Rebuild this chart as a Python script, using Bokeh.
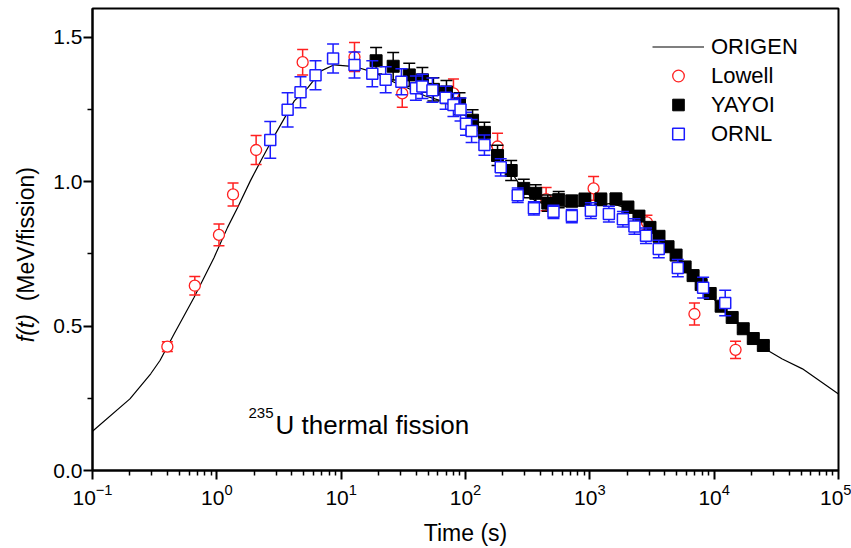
from math import pi
from bokeh.plotting import figure
from bokeh.layouts import row
from bokeh.core.properties import value
from bokeh.models import (FixedTicker, Label, Legend, LegendItem, PrintfTickFormatter,
                          Range1d, ColumnDataSource)
from bokeh.embed import file_html
from bokeh.resources import INLINE

FONT = "Liberation Sans"

# ---------------- data ----------------
origen_t = [0.1, 0.2, 0.294, 0.349, 0.453, 0.657, 0.951, 1.22, 1.47, 1.86, 2.26, 2.9, 4.2, 5.4,
            6.9, 8.8, 12.8, 18.6, 26.9, 34.5, 47, 64, 82, 105, 135, 172, 221, 283, 362, 465,
            673, 1038, 1503, 2050, 2790, 3810, 5190, 7060, 10240, 24400, 35300, 51300, 100000]
origen_f = [0.136, 0.248, 0.335, 0.381, 0.473, 0.600, 0.738, 0.842, 0.911, 1.003, 1.073, 1.159,
            1.280, 1.326, 1.384, 1.405, 1.399, 1.378, 1.344, 1.324, 1.298, 1.280, 1.257, 1.222,
            1.171, 1.107, 1.049, 0.980, 0.934, 0.917, 0.915, 0.917, 0.925, 0.906, 0.854, 0.796,
            0.727, 0.657, 0.588, 0.427, 0.386, 0.352, 0.265]

lowell_t = [0.40, 0.665, 1.04, 1.35, 2.07, 4.9, 12.8, 31, 80, 181, 445, 1072, 2880, 6940, 14860]
lowell_f = [0.429, 0.640, 0.816, 0.956, 1.110, 1.414, 1.432, 1.306, 1.306, 1.122, 0.940, 0.977,
            0.859, 0.542, 0.418]
lowell_err = [0.017, 0.032, 0.038, 0.040, 0.050, 0.044, 0.050, 0.048, 0.050, 0.046, 0.040, 0.041,
              0.025, 0.038, 0.030]

yayoi_t = [19.1, 26.2, 35.3, 45.0, 55.2, 70.3, 89.5, 114, 142, 181, 233, 294, 367, 459, 562, 716,
           912, 1227, 1622, 2025, 2483, 3046, 3600, 4256, 4940, 5840, 6770, 7860, 9290, 11380,
           13960, 17130, 20630, 24850]
yayoi_f = [1.419, 1.400, 1.370, 1.353, 1.320, 1.311, 1.270, 1.213, 1.171, 1.091, 1.039, 0.977,
           0.960, 0.926, 0.938, 0.933, 0.938, 0.939, 0.940, 0.912, 0.881, 0.842, 0.811, 0.775,
           0.746, 0.705, 0.675, 0.644, 0.613, 0.569, 0.530, 0.491, 0.457, 0.433]
yayoi_err = [0.046, 0.048, 0.040, 0.043, 0.040, 0.040, 0.038, 0.036, 0.035, 0.035, 0.035, 0.032,
             0.030, 0.028, 0.028, 0.020, 0.022, 0.021, 0.020, 0.020, 0.017, 0.015, 0.013, 0.012,
             0.012, 0.012, 0.012, 0.012, 0.012, 0.012, 0.012, 0.012, 0.012, 0.012]

ornl_t = [2.69, 3.71, 4.71, 6.22, 8.61, 12.8, 17.8, 22.8, 30.5, 39.9, 45.0, 54.2, 69.2, 80.0, 91.2,
          101, 112, 142, 192, 263, 355, 510, 716, 1019, 1423, 1845, 2284, 2829, 3584, 5098, 8150,
          12270]
ornl_f = [1.145, 1.249, 1.310, 1.369, 1.427, 1.404, 1.374, 1.353, 1.346, 1.324, 1.330, 1.317,
          1.291, 1.266, 1.250, 1.201, 1.176, 1.127, 1.050, 0.953, 0.908, 0.896, 0.881, 0.900,
          0.888, 0.870, 0.845, 0.813, 0.767, 0.701, 0.633, 0.580]
ornl_err = [0.064, 0.059, 0.054, 0.050, 0.050, 0.045, 0.045, 0.045, 0.045, 0.042, 0.042, 0.042,
            0.040, 0.040, 0.040, 0.040, 0.040, 0.035, 0.030, 0.025, 0.023, 0.023, 0.023, 0.027,
            0.027, 0.027, 0.027, 0.027, 0.030, 0.030, 0.036, 0.044]

x_ticks = [1e-1, 1e0, 1e1, 1e2, 1e3, 1e4, 1e5]
x_minor = [m * d for d in [1e-1, 1e0, 1e1, 1e2, 1e3, 1e4] for m in range(2, 10)]
y_ticks = [0.0, 0.5, 1.0, 1.5]
y_minor = [0.25, 0.75, 1.25]

RED = "#ff2020"
BLUE = "#1c1cff"

W, H = 851, 548
LW = 50           # width of the strip that holds the y-axis title
BT, BB = 8, 78    # top / bottom borders shared by both figures

# ---------------- y-axis title strip ----------------
# its frame is aligned with the main frame; y data = H - pixel row
yl = figure(width=LW, height=H, x_range=Range1d(0, LW), y_range=Range1d(BB, H - BT),
            output_backend="svg", toolbar_location=None,
            x_axis_location=None, y_axis_location=None,
            min_border_left=0, min_border_right=0, min_border_top=BT, min_border_bottom=BB)
yl.grid.visible = False
yl.outline_line_color = None
yl.background_fill_color = "white"
yl.border_fill_color = "white"
yl.text(x=[25.0], y=[206.3], text=["f(t)"], angle=pi / 2, text_font=value(FONT),
        text_font_size="23px", text_font_style="italic", text_color="black",
        text_align="left", text_baseline="alphabetic")
yl.text(x=[25.0], y=[247.2], text=["(MeV/fission)"], angle=pi / 2, text_font=value(FONT),
        text_font_size="23px", text_color="black",
        text_align="left", text_baseline="alphabetic")

# ---------------- main figure ----------------
p = figure(width=W - LW, height=H, x_axis_type="log",
           x_range=Range1d(0.1, 1e5), y_range=Range1d(0, 1.6),
           output_backend="svg", toolbar_location=None,
           min_border_left=92 - LW, min_border_right=13, min_border_top=BT, min_border_bottom=BB)
p.grid.visible = False
p.outline_line_color = "black"
p.outline_line_width = 2
p.background_fill_color = "white"
p.border_fill_color = "white"

for ax in (p.xaxis[0], p.yaxis[0]):
    ax.axis_line_width = 2
    ax.major_tick_line_width = 2
    ax.minor_tick_line_width = 1.5
    ax.major_tick_out = 9
    ax.major_tick_in = 0
    ax.minor_tick_out = 5
    ax.minor_tick_in = 0
    ax.major_label_text_font = FONT
    ax.major_label_text_font_size = "21px"
    ax.major_label_text_color = "black"

xa = p.xaxis[0]
xa.ticker = FixedTicker(ticks=x_ticks, minor_ticks=x_minor)
xa.major_label_standoff = 4
xa.axis_label = "Time (s)"
xa.axis_label_text_font = FONT
xa.axis_label_text_font_size = "23px"
xa.axis_label_text_font_style = "normal"
xa.axis_label_text_color = "black"
xa.axis_label_standoff = 12

ya = p.yaxis[0]
ya.ticker = FixedTicker(ticks=y_ticks, minor_ticks=y_minor)
ya.formatter = PrintfTickFormatter(format="%.1f")
ya.major_label_standoff = 1


def errbars(t, f, e, color, cap):
    src = ColumnDataSource(dict(t=t, lo=[a - b for a, b in zip(f, e)],
                                hi=[a + b for a, b in zip(f, e)]))
    p.segment(x0="t", y0="lo", x1="t", y1="hi", source=src, line_color=color, line_width=1.5)
    p.scatter(x="t", y="lo", source=src, marker="dash", size=cap, line_color=color, line_width=1.5)
    p.scatter(x="t", y="hi", source=src, marker="dash", size=cap, line_color=color, line_width=1.5)


r_line = p.line(origen_t, origen_f, line_color="black", line_width=1.2)

errbars(lowell_t, lowell_f, lowell_err, RED, 11)
r_low = p.scatter(lowell_t, lowell_f, marker="circle", size=11, line_color=RED,
                  fill_color="white", line_width=1.3)

errbars(yayoi_t, yayoi_f, yayoi_err, "black", 12)
r_yay = p.scatter(yayoi_t, yayoi_f, marker="square", size=12, line_color="black",
                  fill_color="black", line_width=1)

errbars(ornl_t, ornl_f, ornl_err, BLUE, 12)
r_orn = p.scatter(ornl_t, ornl_f, marker="square", size=11, line_color=BLUE,
                  fill_color="white", line_width=1.5)

legend = Legend(items=[LegendItem(label="ORIGEN", renderers=[r_line]),
                       LegendItem(label="Lowell", renderers=[r_low]),
                       LegendItem(label="YAYOI", renderers=[r_yay]),
                       LegendItem(label="ORNL", renderers=[r_orn])],
                location=(560, 322), padding=0, margin=0, spacing=0,
                glyph_width=52, glyph_height=29, label_height=29, label_standoff=7,
                label_text_font=FONT, label_text_font_size="22px", label_text_color="black",
                border_line_color=None, background_fill_alpha=0)
p.add_layout(legend)

p.add_layout(Label(x=156, y=58, x_units="screen", y_units="screen",
                   text="235", text_font=FONT, text_font_size="15px", text_color="black",
                   text_align="left", text_baseline="alphabetic"))
p.add_layout(Label(x=183, y=46, x_units="screen", y_units="screen",
                   text="U thermal fission", text_font=FONT, text_font_size="26px",
                   text_color="black", text_align="left", text_baseline="alphabetic"))

layout = row(yl, p)
open("out.html", "w").write(file_html(layout, INLINE))
